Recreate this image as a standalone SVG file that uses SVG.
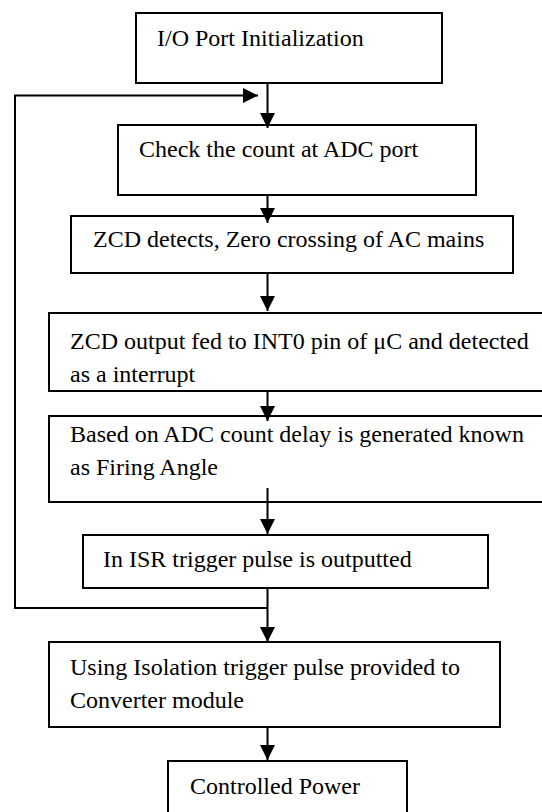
<svg xmlns="http://www.w3.org/2000/svg" width="542" height="812" viewBox="0 0 542 812">
<style>
.box{fill:#fff;stroke:#000;stroke-width:2}
.t{font-family:"Liberation Serif","Times New Roman",serif;font-size:24px;fill:#000}
.ln{fill:none;stroke:#000;stroke-width:2}
</style>
<defs>
<marker id="ah" markerUnits="userSpaceOnUse" markerWidth="16" markerHeight="16" refX="15" refY="7.5" orient="auto" viewBox="0 0 16 16">
<path d="M0,0 L15,7.5 L0,15 z" fill="#000"/>
</marker>
</defs>
<rect width="542" height="812" fill="#fff"/>
<g id="n1"><rect class="box" x="136" y="13" width="306" height="70"/><text class="t" x="157" y="46">I/O Port Initialization</text></g>
<g id="n2"><rect class="box" x="118" y="125" width="358" height="70"/><text class="t" x="139" y="157">Check the count at ADC port</text></g>
<g id="n3"><rect class="box" x="71" y="216" width="442" height="57"/><text class="t" x="93" y="247">ZCD detects, Zero crossing of AC mains</text></g>
<g id="n4"><rect class="box" x="49" y="313" width="500" height="78"/><text class="t" x="70" y="349">ZCD output fed to INT0 pin of μC and detected</text><text class="t" x="70" y="382">as a interrupt</text></g>
<g id="n5"><rect class="box" x="49" y="416" width="500" height="86"/><text class="t" x="70" y="442">Based on ADC count delay is generated known</text><text class="t" x="70" y="475">as Firing Angle</text></g>
<g id="n6"><rect class="box" x="83" y="535" width="405" height="53"/><text class="t" x="103" y="567">In ISR trigger pulse is outputted</text></g>
<g id="n7"><rect class="box" x="49" y="642" width="451" height="85"/><text class="t" x="70" y="675">Using Isolation trigger pulse provided to</text><text class="t" x="70" y="708">Converter module</text></g>
<g id="n8"><rect class="box" x="168" y="761" width="239" height="60"/><text class="t" x="190" y="794">Controlled Power</text></g>
<g id="connectors">
<line class="ln" x1="267.5" y1="83" x2="267.5" y2="128" marker-end="url(#ah)"/>
<path class="ln" d="M267.5,608 H15 V95.5 H258" marker-end="url(#ah)"/>
<line class="ln" x1="267.5" y1="195" x2="267.5" y2="223" marker-end="url(#ah)"/>
<line class="ln" x1="267.5" y1="273" x2="267.5" y2="311" marker-end="url(#ah)"/>
<line class="ln" x1="267.5" y1="391" x2="267.5" y2="421" marker-end="url(#ah)"/>
<line class="ln" x1="267.5" y1="488" x2="267.5" y2="534" marker-end="url(#ah)"/>
<line class="ln" x1="267.5" y1="588" x2="267.5" y2="642" marker-end="url(#ah)"/>
<line class="ln" x1="267.5" y1="727" x2="267.5" y2="760" marker-end="url(#ah)"/>
</g>
</svg>
